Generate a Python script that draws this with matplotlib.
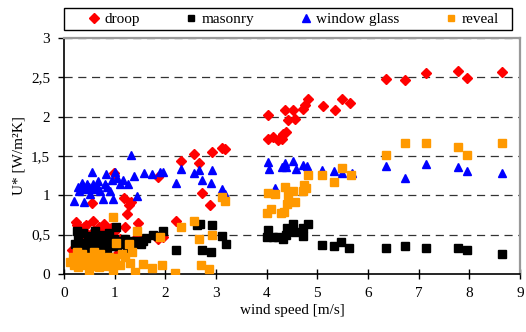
import matplotlib
matplotlib.use("Agg")
import matplotlib.pyplot as plt
from matplotlib.lines import Line2D
from matplotlib.patches import Rectangle

plt.rcParams['font.family'] = ['Liberation Serif', 'DejaVu Serif']

# ---- data (wind speed [m/s], U* [W/m²K]) ----
droop_x = [0.15,0.23,0.25,0.30,0.35,0.40,0.43,0.48,0.50,0.55,0.58,0.60,0.65,0.70,0.75,0.78,0.82,0.88,0.92,0.99,0.99,1.04,1.10,1.18,1.20,1.25,1.28,1.32,1.44,1.47,1.86,1.86,1.96,
           2.22,2.31,2.57,2.67,2.72,2.89,2.93,3.11,3.18,
           4.03,4.03,4.13,4.23,4.30,4.33,4.39,4.36,4.51,4.43,4.56,4.72,4.76,4.82,5.11,5.35,5.48,5.65,
           6.35,6.73,7.14,7.77,7.96,8.65]
droop_y = [0.30,0.66,0.62,0.55,0.45,0.60,0.62,0.50,0.38,0.90,0.68,0.55,0.48,0.60,0.42,0.64,0.55,0.50,0.58,0.54,1.28,0.26,0.45,0.96,0.60,0.76,0.88,0.92,0.47,0.65,0.44,1.23,0.47,
           0.68,1.44,1.52,1.41,1.03,0.88,1.55,1.60,1.59,
           2.02,1.72,1.74,1.70,1.71,1.78,1.81,2.08,2.08,1.96,1.97,2.10,2.15,2.23,2.13,2.09,2.22,2.18,
           2.48,2.46,2.56,2.58,2.49,2.57]

masonry_x = [0.22,0.25,0.28,0.30,0.35,0.38,0.42,0.45,0.48,0.50,0.55,0.58,0.60,0.62,0.65,0.70,0.72,0.75,0.78,0.80,0.85,0.88,0.90,0.95,0.98,1.02,1.05,1.10,1.15,1.20,1.25,1.30,1.38,1.45,1.52,1.56,1.62,1.76,1.85,1.95,
             2.22,2.62,2.68,2.72,2.90,2.93,3.11,3.19,
             4.03,4.01,4.13,4.23,4.32,4.39,4.41,4.51,4.56,4.71,4.72,4.81,5.09,5.33,5.47,5.63,
             6.35,6.73,7.14,7.77,7.96,8.65]
masonry_y = [0.38,0.55,0.45,0.30,0.40,0.52,0.35,0.28,0.42,0.48,0.38,0.30,0.45,0.55,0.36,0.42,0.28,0.50,0.38,0.45,0.32,0.52,0.40,0.35,0.45,0.60,0.35,0.42,0.38,0.45,0.32,0.42,0.40,0.42,0.38,0.42,0.46,0.50,0.48,0.55,
             0.30,0.62,0.64,0.30,0.28,0.62,0.48,0.38,
             0.56,0.47,0.47,0.47,0.45,0.50,0.59,0.63,0.53,0.48,0.59,0.63,0.37,0.36,0.41,0.33,
             0.33,0.35,0.33,0.33,0.30,0.26]

glass_x = [0.20,0.27,0.30,0.35,0.38,0.40,0.42,0.45,0.50,0.52,0.55,0.58,0.60,0.65,0.68,0.72,0.76,0.80,0.82,0.85,0.90,0.95,0.97,1.01,1.05,1.10,1.17,1.26,1.32,1.38,1.45,1.57,1.74,1.89,1.95,
           2.22,2.31,2.57,2.67,2.73,2.90,2.93,3.12,3.18,
           4.03,4.05,4.16,4.30,4.36,4.39,4.51,4.57,4.72,4.79,5.10,5.33,5.48,5.68,
           6.35,6.73,7.14,7.77,7.96,8.65]
glass_y = [0.93,1.10,1.05,1.16,1.12,0.92,1.08,1.15,1.10,1.02,1.30,1.15,1.08,1.12,1.18,1.05,0.95,1.15,1.27,1.10,1.05,1.20,0.95,1.30,1.22,1.15,1.19,1.14,1.51,1.25,0.99,1.29,1.27,1.30,1.30,
           1.16,1.34,1.29,1.32,1.19,1.16,1.32,1.08,1.02,
           1.43,1.34,1.09,1.36,1.41,1.36,1.44,1.34,1.38,1.37,1.32,1.31,1.29,1.29,
           1.37,1.22,1.40,1.36,1.31,1.29]

reveal_x = [0.12,0.18,0.20,0.25,0.28,0.30,0.35,0.38,0.42,0.45,0.50,0.52,0.55,0.60,0.62,0.65,0.70,0.72,0.75,0.80,0.85,0.88,0.92,0.96,0.97,1.00,1.02,1.10,1.15,1.20,1.29,1.30,1.35,1.40,1.45,1.55,1.73,1.89,1.93,
            2.20,2.31,2.57,2.66,2.70,2.87,2.93,3.11,3.18,
            4.01,4.03,4.09,4.16,4.28,4.34,4.36,4.41,4.43,4.51,4.56,4.71,4.74,4.77,4.81,5.10,5.33,5.48,5.66,
            6.35,6.73,7.14,7.77,7.96,8.65]
reveal_y = [0.15,0.22,0.12,0.28,0.09,0.18,0.25,0.12,0.20,0.15,0.03,0.22,0.10,0.28,0.15,0.20,0.09,0.25,0.14,0.18,0.10,0.22,0.15,0.72,0.05,0.20,0.40,0.11,0.25,0.22,0.38,0.14,0.28,0.03,0.55,0.13,0.08,0.47,0.11,
            0.01,0.60,0.68,0.44,0.11,0.06,0.50,0.98,0.93,
            0.77,1.03,0.83,1.02,0.78,0.79,1.11,0.89,1.00,1.05,0.92,1.06,1.13,1.09,1.26,1.26,1.17,1.35,1.26,
            1.51,1.66,1.66,1.62,1.51,1.67]

x_ticks = [0, 1, 2, 3, 4, 5, 6, 7, 8, 9]
y_ticks = [0, 0.5, 1, 1.5, 2, 2.5, 3]
y_ticklabels = ['0', '0,5', '1', '1,5', '2', '2,5', '3']

RED = '#FF0000'
BLACK = '#000000'
BLUE = '#0000FF'
ORANGE = '#FF9900'

fig = plt.figure(figsize=(5.26, 3.32), dpi=100)
ax = fig.add_axes([64/526, 1-274/332, (520-64)/526, (274-38)/332])

ax.set_xlim(0, 9)
ax.set_ylim(0, 3)

# dashed grid lines
for yv in y_ticks[1:]:
    ax.axhline(yv, color='#333333', lw=0.9, dashes=(6.5, 4.5), zorder=1)

ax.plot(droop_x, droop_y, ls='none', marker='D', ms=5.2, color=RED, mec=RED, zorder=3)
ax.plot(masonry_x, masonry_y, ls='none', marker='s', ms=5.2, color=BLACK, mec=BLACK, zorder=3)
ax.plot(glass_x, glass_y, ls='none', marker='^', ms=6.2, color=BLUE, mec=BLUE, zorder=3)
ax.plot(reveal_x, reveal_y, ls='none', marker='s', ms=5.2, color=ORANGE, mec=ORANGE, zorder=3)

ax.set_xticks(x_ticks)
ax.set_xticklabels([str(t) for t in x_ticks])
ax.set_yticks(y_ticks)
ax.set_yticklabels(y_ticklabels)
ax.tick_params(axis='x', direction='inout', length=7, width=1, labelsize=11, pad=6)
ax.tick_params(axis='y', direction='out', length=4, width=1, labelsize=11, pad=6)

for s in ['left', 'bottom']:
    ax.spines[s].set_color('black')
    ax.spines[s].set_linewidth(1.2)
for s in ['top', 'right']:
    ax.spines[s].set_color('#999999')
    ax.spines[s].set_linewidth(1.6)

ax.set_xlabel('wind speed [m/s]', fontsize=11, labelpad=3)
ax.set_ylabel('U* [W/m²K]', fontsize=11, labelpad=4)

# legend box
fig.patches.append(Rectangle((64/526, 1-30/332), (512-64)/526, 22/332,
                             transform=fig.transFigure, facecolor='white',
                             edgecolor='black', lw=1.0, zorder=0))

handles = [
    Line2D([], [], ls='none', marker='D', ms=5, color=RED),
    Line2D([], [], ls='none', marker='s', ms=4.5, color=BLACK),
    Line2D([], [], ls='none', marker='^', ms=5.5, color=BLUE),
    Line2D([], [], ls='none', marker='s', ms=4.5, color=ORANGE),
]
labels = ['droop', 'masonry', 'window glass', 'reveal']
leg = fig.legend(handles, labels, loc='center left', ncol=4,
                 bbox_to_anchor=(86/526, 1-19/332),
                 frameon=False, fontsize=11,
                 handlelength=1.0, handletextpad=0.2, columnspacing=2.85,
                 borderpad=0, borderaxespad=0)

fig.savefig('out.png', dpi=100)
